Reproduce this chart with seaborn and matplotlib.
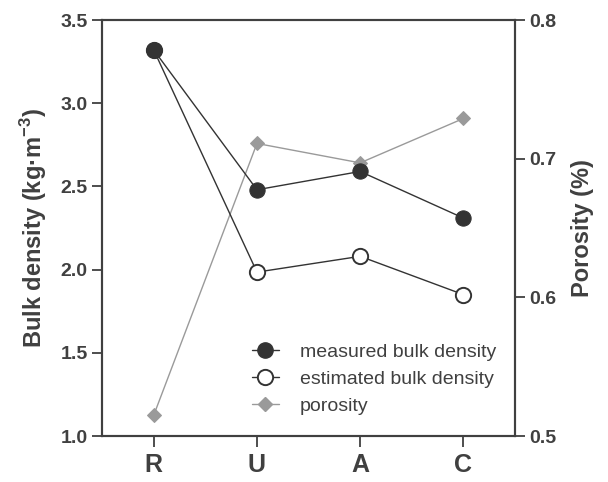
import numpy as np
import pandas as pd
import matplotlib as mpl
from matplotlib import pyplot as plt
from matplotlib.lines import Line2D
import seaborn as sb

sb.set_theme(style="ticks")
plt.rcParams["font.family"] = ["Liberation Sans", "DejaVu Sans"]

# Data
sites = ["R", "U", "A", "C"]
measured = [3.32, 2.48, 2.59, 2.31]
estimated = [3.32, 1.985, 2.08, 1.85]
porosity = [0.515, 0.711, 0.697, 0.729]

dark = "#333333"
grey = "#9a9a9a"
axcol = "#404040"

df = pd.DataFrame({"site": sites, "measured": measured,
                   "estimated": estimated, "porosity": porosity})

fig = plt.figure(figsize=(6.08, 4.82), dpi=100)
ax = fig.add_axes([0.168, 0.0954, 0.679, 0.863])
ax2 = ax.twinx()

# estimated first so the filled marker sits on top at R
sb.lineplot(data=df, x="site", y="estimated", sort=False, ax=ax, color=dark,
            marker="o", markersize=11, markerfacecolor="white", markeredgecolor=dark,
            markeredgewidth=1.4, linewidth=1.0, zorder=3)
sb.lineplot(data=df, x="site", y="measured", sort=False, ax=ax, color=dark,
            marker="o", markersize=11, markeredgecolor=dark, linewidth=1.0, zorder=4)
sb.lineplot(data=df, x="site", y="porosity", sort=False, ax=ax2, color=grey,
            marker="D", markersize=7, markeredgecolor=grey, linewidth=1.0)

ax.set_zorder(ax2.get_zorder() + 1)
ax.patch.set_visible(False)

ax.set_xlim(-0.5, 3.5)
ax.set_ylim(1.0, 3.5)
ax2.set_ylim(0.5, 0.8)
ax.set_yticks(np.arange(1.0, 3.51, 0.5))
ax2.set_yticks([0.5, 0.6, 0.7, 0.8])
ax.yaxis.set_major_formatter(mpl.ticker.FormatStrFormatter("%.1f"))
ax2.yaxis.set_major_formatter(mpl.ticker.FormatStrFormatter("%.1f"))

ax.set_xlabel("")
ax.set_ylabel("Bulk density (kg·m$^{\\mathregular{-3}}$)", fontsize=17, fontweight="bold",
              color=axcol, labelpad=8)
ax2.set_ylabel("Porosity (%)", fontsize=17, fontweight="bold", color=axcol, labelpad=10)

for a in (ax, ax2):
    for s in a.spines.values():
        s.set_color(axcol)
        s.set_linewidth(1.5)
    a.tick_params(direction="out", length=7, width=1.3, color=axcol, labelcolor=axcol)
    for lab in a.get_yticklabels():
        lab.set_fontsize(14)
        lab.set_fontweight("bold")
ax.tick_params(axis="x", length=8, labelsize=18, pad=4)
for lab in ax.get_xticklabels():
    lab.set_fontweight("bold")

handles = [
    Line2D([], [], color=dark, marker="o", markersize=11, linewidth=1.0),
    Line2D([], [], color=dark, marker="o", markersize=11, markerfacecolor="white",
           markeredgewidth=1.4, linewidth=1.0),
    Line2D([], [], color=grey, marker="D", markersize=7, linewidth=1.0),
]
ax.legend(handles, ["measured bulk density", "estimated bulk density", "porosity"],
          loc="lower right", bbox_to_anchor=(0.955, 0.05), borderpad=0,
          borderaxespad=0, frameon=False, fontsize=14, handlelength=1.4,
          handletextpad=1.1, labelcolor=axcol, labelspacing=0.5)
if ax2.get_legend():
    ax2.get_legend().remove()

fig.savefig("out.png", dpi=100)
